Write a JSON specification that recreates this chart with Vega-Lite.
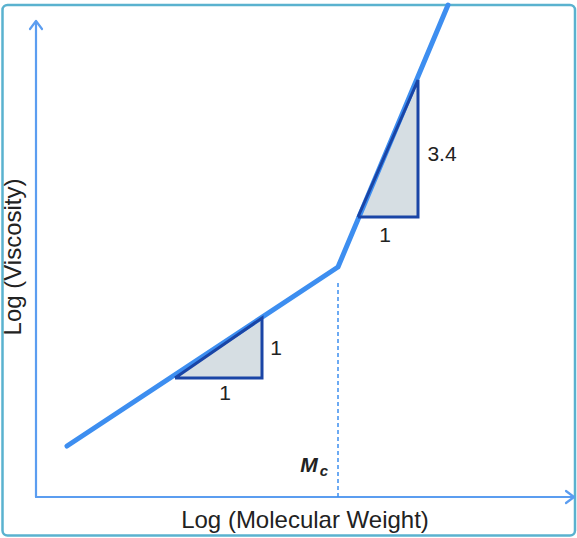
{
  "$schema": "https://vega.github.io/schema/vega-lite/v6.json",
  "width": 577,
  "height": 538,
  "padding": 0,
  "autosize": {"type": "none"},
  "background": "white",
  "config": {"view": {"stroke": null}},
  "datasets": {
    "frame": [{"x": 2.5, "x2": 575, "y": 2.5, "y2": 533}],
    "axes": [
      {"seg": "y", "o": 1, "x": 36, "y": 41},
      {"seg": "y", "o": 2, "x": 36, "y": 516},
      {"seg": "x", "o": 1, "x": 36, "y": 41},
      {"seg": "x", "o": 2, "x": 573, "y": 41},
      {"seg": "ya", "o": 1, "x": 30, "y": 509},
      {"seg": "ya", "o": 2, "x": 36, "y": 517},
      {"seg": "ya", "o": 3, "x": 42, "y": 509},
      {"seg": "xa", "o": 1, "x": 566, "y": 47},
      {"seg": "xa", "o": 2, "x": 574, "y": 41},
      {"seg": "xa", "o": 3, "x": 566, "y": 35}
    ],
    "tri_fill": [
      {"t": "a", "x": 175, "y": 160, "y2": 160},
      {"t": "a", "x": 262, "y": 220, "y2": 160},
      {"t": "b", "x": 358, "y": 321, "y2": 321},
      {"t": "b", "x": 418, "y": 458, "y2": 321}
    ],
    "tri_edge": [
      {"t": "a", "o": 1, "x": 175, "y": 160},
      {"t": "a", "o": 2, "x": 262, "y": 160},
      {"t": "a", "o": 3, "x": 262, "y": 220},
      {"t": "a", "o": 4, "x": 175, "y": 160},
      {"t": "b", "o": 1, "x": 358, "y": 321},
      {"t": "b", "o": 2, "x": 418, "y": 321},
      {"t": "b", "o": 3, "x": 418, "y": 458},
      {"t": "b", "o": 4, "x": 358, "y": 321}
    ],
    "curve": [
      {"o": 1, "x": 67, "y": 92},
      {"o": 2, "x": 338, "y": 271},
      {"o": 3, "x": 448, "y": 533}
    ],
    "mc": [{"x": 338, "y": 255, "y2": 41}],
    "nums": [
      {"label": "1", "x": 225, "y": 144},
      {"label": "1", "x": 276, "y": 189},
      {"label": "1", "x": 385, "y": 302},
      {"label": "3.4", "x": 442, "y": 383}
    ]
  },
  "encoding": {
    "x": {"field": "x", "type": "quantitative", "scale": {"domain": [0, 577], "nice": false, "zero": false}, "axis": null},
    "y": {"field": "y", "type": "quantitative", "scale": {"domain": [0, 538], "nice": false, "zero": false}, "axis": null}
  },
  "layer": [
    {
      "data": {"name": "frame"},
      "mark": {"type": "rect", "fill": "white", "stroke": "#5ab2cf", "strokeWidth": 2.5, "cornerRadius": 5},
      "encoding": {"x2": {"field": "x2"}, "y2": {"field": "y2"}}
    },
    {
      "data": {"name": "axes"},
      "mark": {"type": "line", "color": "#5b9df0", "strokeWidth": 2.2, "strokeCap": "round", "strokeJoin": "round"},
      "encoding": {"detail": {"field": "seg"}, "order": {"field": "o"}}
    },
    {
      "data": {"name": "tri_fill"},
      "mark": {"type": "area", "color": "#d6dee3", "opacity": 1},
      "encoding": {"detail": {"field": "t"}, "y2": {"field": "y2"}}
    },
    {
      "data": {"name": "curve"},
      "mark": {"type": "line", "color": "#3d8ef0", "strokeWidth": 5, "strokeJoin": "round", "strokeCap": "round"},
      "encoding": {"order": {"field": "o"}}
    },
    {
      "data": {"name": "tri_edge"},
      "mark": {"type": "line", "color": "#1a45a6", "strokeWidth": 3, "strokeJoin": "miter"},
      "encoding": {"detail": {"field": "t"}, "order": {"field": "o"}}
    },
    {
      "data": {"name": "mc"},
      "mark": {"type": "rule", "color": "#3d8ef0", "strokeWidth": 1.5, "strokeDash": [4, 3]},
      "encoding": {"y2": {"field": "y2"}}
    },
    {
      "data": {"name": "nums"},
      "mark": {"type": "text", "font": "Liberation Sans", "fontSize": 21, "color": "#222222", "align": "center", "baseline": "middle"},
      "encoding": {"text": {"field": "label"}}
    },
    {
      "data": {"values": [{"label": "M", "x": 309, "y": 72}]},
      "mark": {"type": "text", "font": "Liberation Sans", "fontSize": 21, "fontStyle": "italic", "fontWeight": "bold", "color": "#222222", "align": "center", "baseline": "middle"},
      "encoding": {"text": {"field": "label"}}
    },
    {
      "data": {"values": [{"label": "c", "x": 324, "y": 67}]},
      "mark": {"type": "text", "font": "Liberation Sans", "fontSize": 15, "fontStyle": "italic", "fontWeight": "bold", "color": "#222222", "align": "center", "baseline": "middle"},
      "encoding": {"text": {"field": "label"}}
    },
    {
      "data": {"values": [{"label": "Log (Molecular Weight)", "x": 305, "y": 17}]},
      "mark": {"type": "text", "font": "Liberation Sans", "fontSize": 24, "color": "#222222", "align": "center", "baseline": "middle"},
      "encoding": {"text": {"field": "label"}}
    },
    {
      "data": {"values": [{"label": "Log (Viscosity)", "x": 14, "y": 281}]},
      "mark": {"type": "text", "font": "Liberation Sans", "fontSize": 24, "angle": 270, "color": "#222222", "align": "center", "baseline": "middle"},
      "encoding": {"text": {"field": "label"}}
    }
  ]
}
